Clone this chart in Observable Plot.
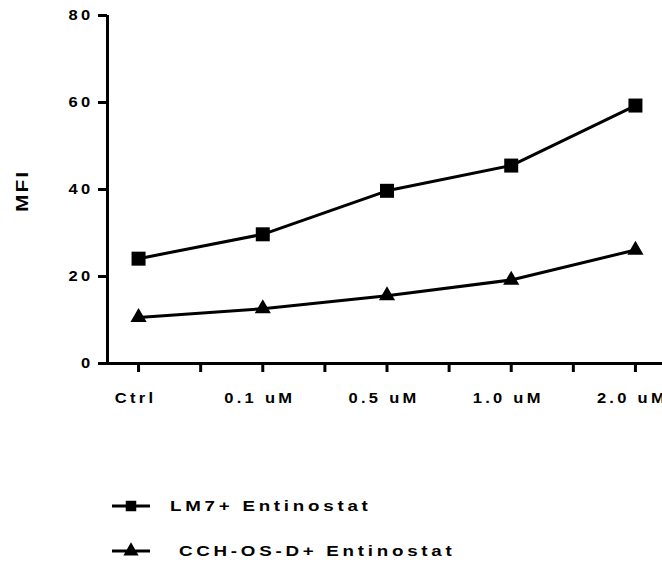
<!DOCTYPE html>
<html>
<head>
<meta charset="utf-8">
<script src="https://cdn.jsdelivr.net/npm/d3@7"></script>
<script src="https://cdn.jsdelivr.net/npm/@observablehq/plot@0.6"></script>
<style>
  body { margin: 0; background: #fff; }
  #wrap { position: relative; width: 662px; height: 562px; font-family: "Liberation Sans", Arial, sans-serif; }
  #chart { position: absolute; left: 0; top: 0; }
  .leg { position: absolute; left: 0; width: 662px; height: 24px; }
  .leg svg { position: absolute; left: 108px; top: 0; }
  .leg span { position: absolute; top: 0; font-weight: bold; font-size: 15px; letter-spacing: 3px; color: #000; line-height: 24px; white-space: pre; transform: scaleX(1.25); transform-origin: 0 50%; }
</style>
</head>
<body>
<div id="wrap">
  <div id="chart"></div>
</div>
<script>
const categories = ["Ctrl", "0.1 uM", "0.5 uM", "1.0 uM", "2.0 uM"];
const lm7 = [24.1, 29.7, 39.7, 45.5, 59.3];
const cch = [10.6, 12.6, 15.6, 19.2, 26.1];
const seriesNames = ["LM7+ Entinostat", " CCH-OS-D+ Entinostat"];
const yTicks = [0, 20, 40, 60, 80];
const xMinorTicks = [0, 0.5, 1, 1.5, 2, 2.5, 3, 3.5, 4];

const data = [];
categories.forEach((c, i) => {
  data.push({ x: i, y: lm7[i], s: seriesNames[0] });
  data.push({ x: i, y: cch[i], s: seriesNames[1] });
});

const chart = Plot.plot({
  width: 662,
  height: 420,
  marginTop: 15,
  marginBottom: 57,
  marginLeft: 107,
  marginRight: 0,
  style: "font-family:'Liberation Sans',Arial,sans-serif;font-weight:bold;font-size:15px;color:#000;background:#fff;",
  x: { domain: [-0.25, 4.25], range: [107, 666] },
  y: { domain: [0, 80] },
  marks: [
    Plot.axisY({ ticks: yTicks, tickSize: 9, tickPadding: 5, strokeWidth: 3, label: null }),
    Plot.text(["MFI"], { frameAnchor: "left", dx: -85, dy: 1, rotate: -90, textAnchor: "middle" }),
    Plot.axisX({ ticks: xMinorTicks, tickSize: 9, strokeWidth: 3, tickFormat: () => "", label: null }),
    Plot.axisX({ ticks: [0, 1, 2, 3, 4], tickSize: 0, tickPadding: 29, dx: -3, tickFormat: (d) => categories[d], label: null }),
    Plot.ruleY([0], { stroke: "black", strokeWidth: 3, x1: -0.26, x2: 4.25 }),
    Plot.ruleX([-0.25], { stroke: "black", strokeWidth: 3, y1: 0, y2: 80 }),
    Plot.line(data, { x: "x", y: "y", z: "s", stroke: "black", strokeWidth: 3 }),
    Plot.dot(data.filter(d => d.s === seriesNames[0]), { x: "x", y: "y", symbol: "square", r: 7.9, fill: "black" }),
    Plot.dot(data.filter(d => d.s === seriesNames[1]), { x: "x", y: "y", symbol: "triangle", r: 6, fill: "black" })
  ]
});
chart.querySelectorAll("text").forEach(t => {
  const isMfi = t.textContent === "MFI";
  t.style.fontSize = isMfi ? "17px" : "15px";
  t.style.fontWeight = "bold";
  t.style.fontFamily = "'Liberation Sans', Arial, sans-serif";
  t.style.letterSpacing = isMfi ? "2px" : "3px";
  t.style.fill = "#000";
  const tr = t.getAttribute("transform") || "";
  t.setAttribute("transform", tr + (isMfi ? " scale(1.2,1)" : " scale(1.1,1)"));
});
document.getElementById("chart").appendChild(chart);

// legend
const wrap = document.getElementById("wrap");
const legTops = [494, 539];
const symbols = ["square", "triangle"];
seriesNames.forEach((name, i) => {
  const row = document.createElement("div");
  row.className = "leg";
  row.style.top = legTops[i] + "px";
  const sw = d3.create("svg").attr("width", 50).attr("height", 24);
  sw.append("line").attr("x1", 4).attr("x2", 42).attr("y1", 12).attr("y2", 12).attr("stroke", "black").attr("stroke-width", 3);
  const sym = symbols[i] === "square" ? d3.symbolSquare : d3.symbolTriangle;
  const size = symbols[i] === "square" ? 110 : 100;
  sw.append("path").attr("d", d3.symbol(sym, size)()).attr("transform", "translate(23,12)").attr("fill", "black");
  row.appendChild(sw.node());
  const sp = document.createElement("span");
  sp.style.left = "170px";
  sp.textContent = name;
  row.appendChild(sp);
  wrap.appendChild(row);
});
</script>
</body>
</html>
